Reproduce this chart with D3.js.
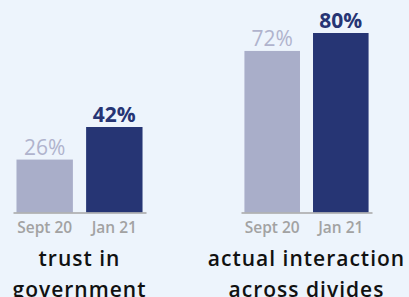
<!DOCTYPE html>
<html lang="en">
<head>
    <meta charset="UTF-8">
    <title>Trust and interaction</title>
    <style>
        body {
          margin: 0;
          background: #edf4fc;
          font-family: "Open Sans", "Noto Sans", sans-serif;
        }
        .axis path { stroke: #a6a6a6; stroke-width: 1.5px; }
        .axis text { fill: #a2a2a2; font-size: 15.5px; font-weight: 600; font-family: "Open Sans", sans-serif; }
        .value { font-size: 21px; text-anchor: middle; }
        .title { font-size: 21px; font-weight: 600; letter-spacing: 1px; fill: #111; text-anchor: middle; }
    </style>
</head>
<body>
    <script src="https://d3js.org/d3.v7.min.js"></script>
    <script>
        var width = 409,
            height = 297,
            baseline = 212.5;

        // data
        var periods = ["Sept 20", "Jan 21"];
        var trustValues = [26, 42];
        var interactionValues = [72, 80];
        var titles = [["trust in", "government"], ["actual interaction", "across divides"]];
        var colors = ["#a9aec9", "#263574"];
        var labelColors = ["#b0b3cd", "#263574"];

        var svg = d3.select("body").append("svg")
            .attr("width", width)
            .attr("height", height);

        var panels = [
          {values: trustValues, title: titles[0], x0: 13, x1: 146, top: 127},
          {values: interactionValues, title: titles[1], x0: 241, x1: 372, top: 33}
        ];

        panels.forEach(function(p) {
          var x = d3.scaleBand()
              .domain(periods)
              .range([p.x0, p.x1])
              .paddingInner(0.19)
              .paddingOuter(0.05);

          var y = d3.scaleLinear()
              .domain([0, d3.max(p.values)])
              .range([baseline, p.top]);

          var g = svg.append("g");

          g.selectAll("rect")
              .data(p.values)
            .enter().append("rect")
              .attr("x", function(d, i) { return x(periods[i]); })
              .attr("y", function(d) { return y(d); })
              .attr("width", x.bandwidth())
              .attr("height", function(d) { return baseline - y(d); })
              .attr("fill", function(d, i) { return colors[i]; });

          g.selectAll("text.value")
              .data(p.values)
            .enter().append("text")
              .attr("class", "value")
              .attr("x", function(d, i) { return x(periods[i]) + x.bandwidth() / 2; })
              .attr("y", function(d) { return y(d) - 5; })
              .attr("fill", function(d, i) { return labelColors[i]; })
              .attr("font-weight", function(d, i) { return i ? 700 : 400; })
              .text(function(d) { return d + "%"; });

          var axis = g.append("g")
              .attr("class", "axis")
              .attr("transform", "translate(0," + baseline + ")")
              .call(d3.axisBottom(x).tickSize(0).tickPadding(9));
          axis.selectAll("text").attr("dy", "0.71em");

          var cx = (p.x0 + p.x1) / 2;
          g.selectAll("text.title")
              .data(p.title)
            .enter().append("text")
              .attr("class", "title")
              .attr("x", cx)
              .attr("y", function(d, i) { return 266 + i * 31; })
              .text(function(d) { return d; });
        });
    </script>
</body>
</html>
